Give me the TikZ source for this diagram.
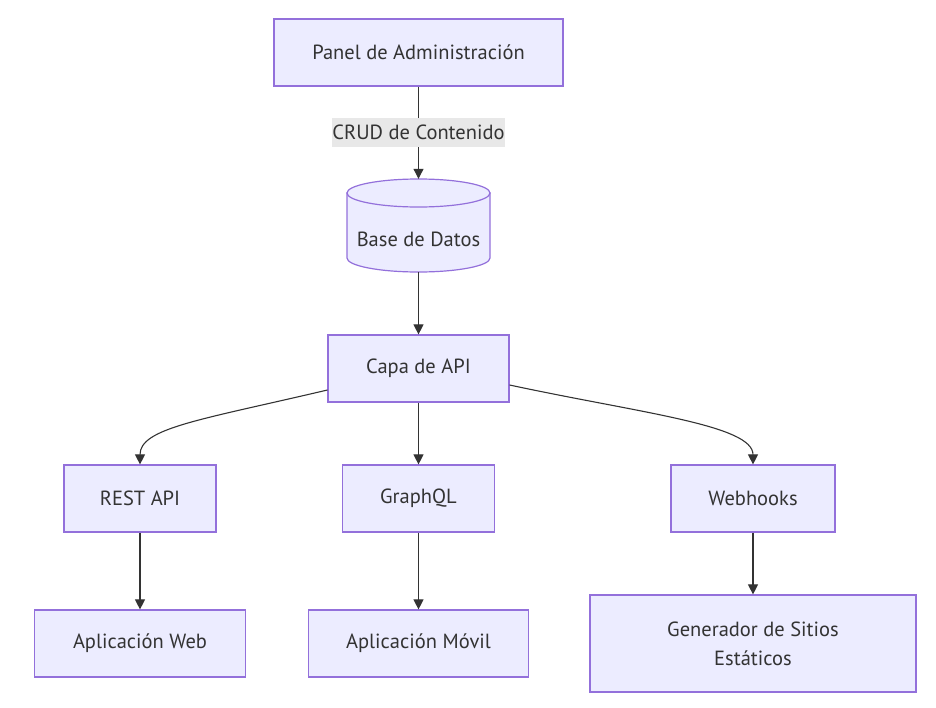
\documentclass[tikz,border=0pt]{standalone}
\usepackage{fontspec}
\setmainfont{PT Sans}
\usetikzlibrary{arrows.meta}
\definecolor{nodefill}{HTML}{ECECFF}
\definecolor{nodeline}{HTML}{9370DB}
\definecolor{edgecol}{HTML}{333333}
\definecolor{lblbg}{HTML}{E8E8E8}
\begin{document}
\begin{tikzpicture}[x=1pt,y=-1pt,
  box/.style={draw=nodeline,fill=nodefill,line width=1.2pt,inner sep=0pt,
    font=\fontsize{20.5}{29}\selectfont,text=edgecol,align=center},
  edge/.style={draw=edgecol,line width=1.1pt,-{Triangle[length=10pt,width=10pt]}},
  lbl/.style={fill=lblbg,font=\fontsize{20.5}{23}\selectfont,text=edgecol,inner sep=0pt,
    minimum width=173pt,minimum height=29pt}]
\useasboundingbox (0,0) rectangle (936,707);
\node[box,minimum width=289pt,minimum height=67pt] (panel) at (418.5,52.5) {Panel de Administración};
% cylinder
\node[inner sep=0pt,minimum width=143pt,minimum height=93pt] (db) at (418.5,225.5) {};
\fill[nodefill,draw=nodeline,line width=1.2pt]
  (347,193) -- (347,258) arc[start angle=180,end angle=360,x radius=71.5pt,y radius=14pt]
  -- (490,193) -- cycle;
\fill[nodefill,draw=nodeline,line width=1.2pt] (418.5,193) ellipse[x radius=71.5pt,y radius=14pt];
\node[font=\fontsize{20.5}{23}\selectfont,text=edgecol] (dbtext) at (418.5,239) {Base de Datos};
\node[box,minimum width=181pt,minimum height=67pt] (api) at (418.5,368.5) {Capa de API};
\node[box,minimum width=152pt,minimum height=67pt] (rest) at (140,498.5) {REST API};
\node[box,minimum width=152pt,minimum height=67pt] (gql) at (418.5,498.5) {GraphQL};
\node[box,minimum width=164pt,minimum height=67pt] (hook) at (753,498.5) {Webhooks};
\node[box,minimum width=211pt,minimum height=67pt] (web) at (140,643.5) {Aplicación Web};
\node[box,minimum width=220pt,minimum height=67pt] (mov) at (418.5,643.5) {Aplicación Móvil};
\node[box,minimum width=326pt,minimum height=97pt] (gen) at (753,643.5) {Generador de Sitios\\Estáticos};
% edges
\draw[edge] (panel.south) -- (db.north);
\node[lbl] (crud) at (418.5,132.5) {CRUD de Contenido};
\draw[edge] (db.south) -- (api.north);
\draw[edge] (api.west |- 0,390) .. controls (200,420) and (140,428) .. (rest.north);
\draw[edge] (api.south) -- (gql.north);
\draw[edge] (api.east |- 0,385) .. controls (640,413) and (753,425) .. (hook.north);
\draw[edge] (rest.south) -- (web.north);
\draw[edge] (gql.south) -- (mov.north);
\draw[edge] (hook.south) -- (gen.north);
\end{tikzpicture}
\end{document}
